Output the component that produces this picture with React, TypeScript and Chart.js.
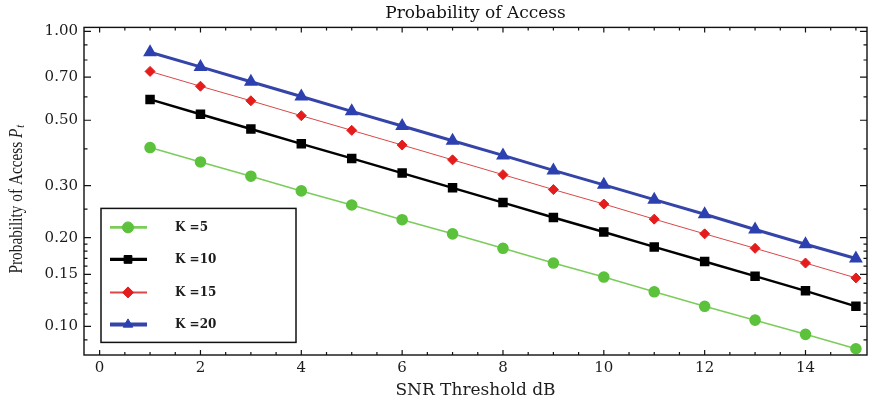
import React, { useEffect, useRef } from 'react';
import { Chart, registerables } from 'chart.js';
import { drawPoint } from 'chart.js/helpers';

Chart.register(...registerables);

const chartTitle = 'Probability of Access';
const xAxisTitle = 'SNR Threshold dB';
const yAxisTitleMain = 'Probability of Access ';
const yAxisTitleSymbol = 'P';
const yAxisTitleSub = 't';

const snrDb = [1, 2, 3, 4, 5, 6, 7, 8, 9, 10, 11, 12, 13, 14, 15];
const seriesLabels = ['K =5', 'K =10', 'K =15', 'K =20'];
const k5 = [0.404, 0.361, 0.323, 0.288, 0.258, 0.230, 0.206, 0.184, 0.164, 0.147, 0.131, 0.117, 0.105, 0.094, 0.084];
const k10 = [0.588, 0.524, 0.467, 0.416, 0.371, 0.331, 0.295, 0.263, 0.234, 0.209, 0.186, 0.166, 0.148, 0.132, 0.117];
const k15 = [0.732, 0.652, 0.582, 0.518, 0.462, 0.412, 0.367, 0.327, 0.291, 0.260, 0.231, 0.206, 0.184, 0.164, 0.146];
const k20 = [0.850, 0.758, 0.675, 0.602, 0.536, 0.478, 0.426, 0.380, 0.338, 0.302, 0.269, 0.240, 0.213, 0.190, 0.170];

const xTicks = [0, 2, 4, 6, 8, 10, 12, 14];
const xMinorTicks = [0.5, 1, 1.5, 2.5, 3, 3.5, 4.5, 5, 5.5, 6.5, 7, 7.5, 8.5, 9, 9.5, 10.5, 11, 11.5, 12.5, 13, 13.5, 14.5, 15];
const yTicks = [0.1, 0.15, 0.2, 0.3, 0.5, 0.7, 1.0];
const yMinorTicks = [0.09, 0.11, 0.12, 0.13, 0.14, 0.16, 0.17, 0.18, 0.19, 0.25, 0.4, 0.6, 0.8, 0.9];

const SERIF = '"DejaVu Serif", serif';
const TEXT = '#1c1c1c';

const framePlugin = {
  id: 'frameTicks',
  beforeDatasetsDraw(chart: any) {
    const { ctx, chartArea: ca, scales } = chart;
    const xs = scales.x;
    const ys = scales.y;
    ctx.save();
    ctx.strokeStyle = '#111';
    ctx.lineWidth = 1.4;
    ctx.strokeRect(ca.left, ca.top, ca.right - ca.left, ca.bottom - ca.top);
    ctx.lineWidth = 1.2;
    ctx.beginPath();
    const yTick = (v: number, len: number) => {
      const p = ys.getPixelForValue(v);
      ctx.moveTo(ca.left, p); ctx.lineTo(ca.left + len, p);
      ctx.moveTo(ca.right, p); ctx.lineTo(ca.right - len, p);
    };
    const xTick = (v: number, len: number) => {
      const p = xs.getPixelForValue(v);
      ctx.moveTo(p, ca.bottom); ctx.lineTo(p, ca.bottom - len);
      ctx.moveTo(p, ca.top); ctx.lineTo(p, ca.top + len);
    };
    yTicks.forEach((v) => yTick(v, 7));
    yMinorTicks.forEach((v) => yTick(v, 3.5));
    xTicks.forEach((v) => xTick(v, 5));
    xMinorTicks.forEach((v) => xTick(v, 3));
    ctx.stroke();

    // y axis title (rotated, condensed)
    const cy = (ca.top + ca.bottom) / 2 + 8;
    ctx.translate(17, cy);
    ctx.rotate(-Math.PI / 2);
    ctx.scale(0.85, 1);
    ctx.fillStyle = TEXT;
    ctx.textBaseline = 'middle';
    ctx.textAlign = 'left';
    ctx.font = '18px "Liberation Serif", serif';
    const wMain = ctx.measureText(yAxisTitleMain).width;
    ctx.font = 'italic 18px "Liberation Serif", serif';
    const wP = ctx.measureText(yAxisTitleSymbol).width;
    ctx.font = 'italic 12px "Liberation Serif", serif';
    const wT = ctx.measureText(yAxisTitleSub).width;
    const total = wMain + wP + wT + 1;
    let x0 = -total / 2;
    ctx.font = '18px "Liberation Serif", serif';
    ctx.fillText(yAxisTitleMain, x0, 0);
    x0 += wMain;
    ctx.font = 'italic 18px "Liberation Serif", serif';
    ctx.fillText(yAxisTitleSymbol, x0, 0);
    x0 += wP + 1;
    ctx.font = 'italic 12px "Liberation Serif", serif';
    ctx.fillText(yAxisTitleSub, x0, 4);
    ctx.restore();
  },
};

const legendPlugin = {
  id: 'insetLegend',
  afterDraw(chart: any) {
    const { ctx, chartArea: ca } = chart;
    const bx = ca.left + 17;
    const by = ca.top + 181;
    const bw = 195;
    const bh = 134;
    const rows = [19, 51, 84, 116];
    ctx.save();
    ctx.fillStyle = '#ffffff';
    ctx.fillRect(bx, by, bw, bh);
    ctx.strokeStyle = '#111';
    ctx.lineWidth = 1.5;
    ctx.strokeRect(bx, by, bw, bh);
    chart.data.datasets.forEach((ds: any, i: number) => {
      const y = by + rows[i];
      ctx.strokeStyle = ds.borderColor;
      ctx.lineWidth = ds.borderWidth + 1;
      ctx.beginPath();
      ctx.moveTo(bx + 9, y);
      ctx.lineTo(bx + 46, y);
      ctx.stroke();
      ctx.fillStyle = ds.pointBackgroundColor;
      ctx.strokeStyle = ds.pointBorderColor;
      ctx.lineWidth = 1;
      drawPoint(ctx, { pointStyle: ds.pointStyle, radius: ds.pointRadius + 0.5, rotation: 0, borderWidth: 1 }, bx + 27, y);
      ctx.fillStyle = TEXT;
      ctx.font = `bold 12px ${SERIF}`;
      ctx.textBaseline = 'middle';
      ctx.textAlign = 'left';
      ctx.fillText(ds.label, bx + 74, y);
    });
    ctx.restore();
  },
};

const toPoints = (vals: number[]) => snrDb.map((x, i) => ({ x, y: vals[i] }));

export default function App() {
  const ref = useRef<HTMLCanvasElement>(null);
  useEffect(() => {
    document.body.style.margin = '0';
    const chart = new Chart(ref.current as HTMLCanvasElement, {
      type: 'line',
      data: {
        datasets: [
          {
            label: seriesLabels[0], data: toPoints(k5),
            borderColor: '#7ccc5c', borderWidth: 1.6,
            pointBackgroundColor: '#5cc23c', pointBorderColor: '#5cc23c',
            pointStyle: 'circle', pointRadius: 5, clip: false,
          },
          {
            label: seriesLabels[1], data: toPoints(k10),
            borderColor: '#000000', borderWidth: 2.4,
            pointBackgroundColor: '#000000', pointBorderColor: '#000000',
            pointStyle: 'rect', pointRadius: 5, clip: false,
          },
          {
            label: seriesLabels[2], data: toPoints(k15),
            borderColor: '#d84848', borderWidth: 1,
            pointBackgroundColor: '#e41c1c', pointBorderColor: '#e41c1c',
            pointStyle: 'rectRot', pointRadius: 5, clip: false,
          },
          {
            label: seriesLabels[3], data: toPoints(k20),
            borderColor: '#3444a8', borderWidth: 3,
            pointBackgroundColor: '#2c40b0', pointBorderColor: '#2c40b0',
            pointStyle: 'triangle', pointRadius: 5, clip: false,
          },
        ],
      } as any,
      options: {
        responsive: false,
        animation: false,
        layout: { padding: 0 },
        plugins: {
          legend: { display: false },
          tooltip: { enabled: false },
          title: {
            display: true,
            text: chartTitle,
            fullSize: false,
            color: '#111',
            font: { family: SERIF, size: 17, weight: 'normal' },
            padding: { top: 3, bottom: 4 },
          },
        },
        scales: {
          x: {
            type: 'linear',
            min: -0.31,
            max: 15.22,
            afterBuildTicks: (s: any) => { s.ticks = xTicks.map((v) => ({ value: v })); },
            afterFit: (s: any) => { s.height = 48; },
            grid: { display: false, drawTicks: false },
            border: { display: false },
            ticks: { color: TEXT, font: { family: SERIF, size: 15 }, padding: 4, maxRotation: 0, autoSkip: false },
            title: { display: true, text: xAxisTitle, color: TEXT, font: { family: SERIF, size: 17 }, padding: { top: 0, bottom: 2 } },
          },
          y: {
            type: 'logarithmic',
            min: 0.08,
            max: 1.032,
            afterBuildTicks: (s: any) => { s.ticks = yTicks.map((v) => ({ value: v })); },
            afterFit: (s: any) => { s.width = 84; },
            grid: { display: false, drawTicks: false },
            border: { display: false },
            ticks: { color: TEXT, font: { family: SERIF, size: 15 }, padding: 6, autoSkip: false, callback: (v: any) => Number(v).toFixed(2) },
          },
        },
      } as any,
      plugins: [framePlugin, legendPlugin],
    });
    return () => chart.destroy();
  }, []);
  return (
    <div style={{ width: 875, height: 403 }}>
      <canvas ref={ref} width={875} height={403} style={{ display: 'block', width: 875, height: 403 }} />
    </div>
  );
}
